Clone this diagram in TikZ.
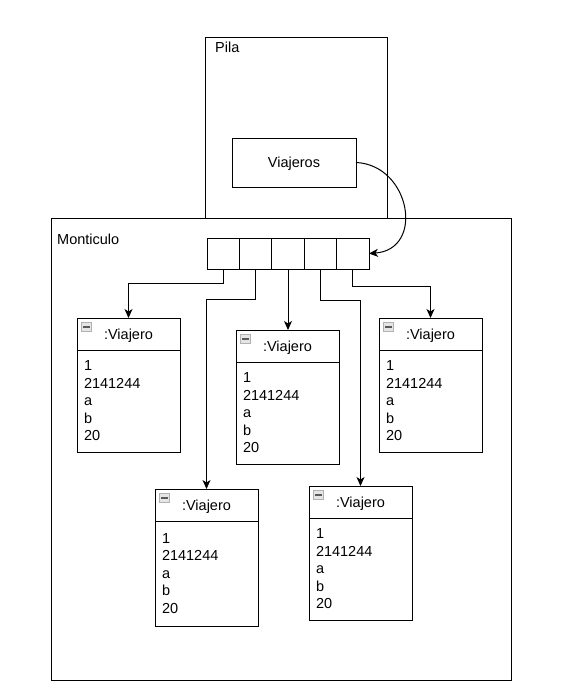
\documentclass[tikz,border=0pt]{standalone}
\usepackage{fontspec}
\setmainfont{Liberation Sans}
\usetikzlibrary{shapes, arrows.meta, positioning}
\tikzstyle{frame} = [rectangle, draw, line width=1pt, outer sep=0pt, anchor=north west]
\tikzstyle{tag} = [inner sep=0pt, anchor=base west, font=\fontsize{14.5}{17.5}\selectfont]
\tikzstyle{ref} = [rectangle, draw, line width=1pt, minimum width=124pt, minimum height=49pt, text depth=0pt, font=\fontsize{14.5}{17.5}\selectfont]
\tikzstyle{cell} = [rectangle, draw, line width=1pt, outer sep=0pt, minimum width=32.4pt, minimum height=31pt]
\tikzstyle{ohead} = [rectangle, draw, line width=1pt, outer sep=0pt, anchor=north west, minimum width=103pt, minimum height=32pt, text depth=0pt, font=\fontsize{14.5}{17.5}\selectfont]
\tikzstyle{obody} = [rectangle, draw, line width=1pt, outer sep=0pt, minimum width=103pt, minimum height=102pt, text width=89pt, inner xsep=7pt, align=left, font=\fontsize{14.5}{17.5}\selectfont]
\tikzstyle{icon} = [rectangle, draw=gray!60, fill=gray!20, line width=0.8pt, minimum width=9.5pt, minimum height=9pt, inner sep=0pt,
  path picture={\draw[black!65, line width=2pt] ([xshift=1.5pt]path picture bounding box.west) -- ([xshift=-1.5pt]path picture bounding box.east);}]
\tikzstyle{line} = [draw, line width=1pt, -{Stealth[length=9pt, width=8pt, inset=2.5pt]}]

\begin{document}
\begin{tikzpicture}[x=1pt, y=-1pt]
    \useasboundingbox (0,0) rectangle (566,697);

    % stack and heap
    \node[frame, minimum width=460pt, minimum height=462pt] (heap) at (51,218) {};
    \node[frame, minimum width=182pt, minimum height=181pt] (stack) at (205,37) {};
    \node[tag] (stacktag) at (215,52) {Pila};
    \node[tag] (heaptag) at (57,244) {Monticulo};
    \node[ref] (via) at (294,162.5) {Viajeros};

    % array
    \node[cell] (c1) at (223.2,253.5) {};
    \node[cell, right=0pt of c1] (c2) {};
    \node[cell, right=0pt of c2] (c3) {};
    \node[cell, right=0pt of c3] (c4) {};
    \node[cell, right=0pt of c4] (c5) {};

    % objects
    \node[ohead] (h1) at (77,318) {:Viajero};
    \node[obody, below=0pt of h1] (b1) {1\\2141244\\a\\b\\20};
    \node[icon] (i1) at ([xshift=9.5pt,yshift=-9pt]h1.north west) {};

    \node[ohead] (h2) at (236,330) {:Viajero};
    \node[obody, below=0pt of h2] (b2) {1\\2141244\\a\\b\\20};
    \node[icon] (i2) at ([xshift=9.5pt,yshift=-9pt]h2.north west) {};

    \node[ohead] (h3) at (379,318) {:Viajero};
    \node[obody, below=0pt of h3] (b3) {1\\2141244\\a\\b\\20};
    \node[icon] (i3) at ([xshift=9.5pt,yshift=-9pt]h3.north west) {};

    \node[ohead] (h4) at (155,489) {:Viajero};
    \node[obody, below=0pt of h4, minimum height=105pt] (b4) {1\\2141244\\a\\b\\20};
    \node[icon] (i4) at ([xshift=9.5pt,yshift=-9pt]h4.north west) {};

    \node[ohead] (h5) at (309,486) {:Viajero};
    \node[obody, below=0pt of h5] (b5) {1\\2141244\\a\\b\\20};
    \node[icon] (i5) at ([xshift=9.5pt,yshift=-9pt]h5.north west) {};

    % references
    \path[line] (via.east) .. controls +(54,3) and +(56,-4) .. (c5.east);
    \path[line] (c1.south) -- ++(0,14) -| (h1.north);
    \path[line] (c2.south) -- ++(0,30) -| (h4.north);
    \path[line] (c3.south) -- (c3.south |- h2.north);
    \path[line] (c4.south) -- ++(0,31) -| (h5.north);
    \path[line] (c5.south) -- ++(0,17) -| (h3.north);
\end{tikzpicture}
\end{document}
